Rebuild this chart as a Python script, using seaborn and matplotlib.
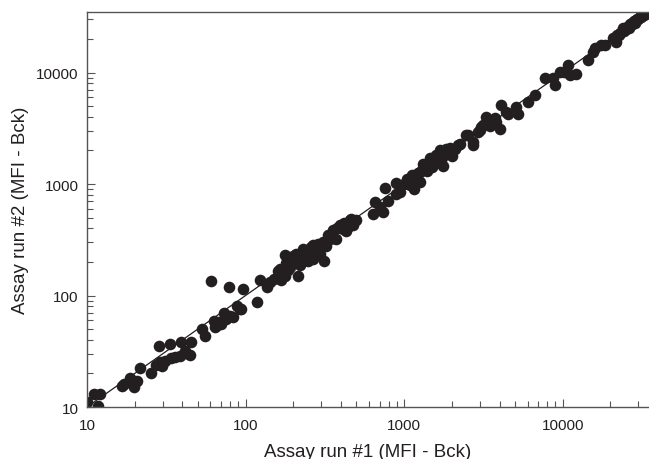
import numpy as np
import pandas as pd
import matplotlib
matplotlib.use("Agg")
import matplotlib.pyplot as plt
import matplotlib.ticker as mticker
import seaborn as sns

# MFI - background
run1 = [
    10, 11, 12, 11.8, 16.6, 17, 18.7, 19.9, 20.8, 21.6, 25.5, 27.3, 28.3, 29.7, 29, 31,
    33.3, 33.8, 36, 38.5, 39.1, 41.6, 44.6, 45.2, 42, 53, 55.6, 60.2, 63.4, 64.6, 66, 68,
    70, 73, 75, 78.8, 80, 83, 88, 91.6, 94, 95.8,
    118, 123, 136, 142, 152, 164, 168, 177, 177, 192, 209, 214, 204, 231, 220, 248, 267,
    267, 287, 311, 293, 323, 332, 180, 195, 225, 240, 255, 275, 300, 310,
    160, 185, 200, 235, 260, 285, 320, 340,
    357, 374, 393, 412, 454, 465, 474, 430, 500, 345, 380, 420, 445,
    637, 653, 700, 736, 755, 792, 894, 894, 938, 1000, 1050, 1084, 1120, 1140, 1160, 1180,
    1194, 1250, 1253, 1300, 1315, 1350, 1400, 1414, 1450, 1480, 1520, 1550, 1596, 1620,
    1675, 1700, 1750, 1760, 1800, 1845, 1845, 1900, 2000, 2100, 2188, 2250, 2472, 2530,
    1230, 1380, 1500, 1650, 1950,
    2725, 2730, 2924, 3000, 3070, 3150, 3296, 3400, 3500, 3600, 3722, 3800, 4000, 4102,
    4406, 4500, 5096, 5223, 6038, 6653, 7690, 8680, 8900, 9550, 10200, 10780, 11050,
    12180, 14430, 15500, 16000, 17500, 18500, 20700, 21730, 22000, 23000, 23930, 24000,
    24500, 25500, 26000, 26500, 27000, 27500, 28000, 28500, 29000, 30000, 31000, 31260,
    32000, 33000, 22500, 25000, 29500, 32500, 34000,
]
run2 = [
    11, 13, 13, 10.3, 15.5, 16, 18.1, 15, 17.2, 22.3, 20, 23.8, 35, 23.2, 25.5, 26,
    36.8, 27.4, 28, 28.9, 38.1, 32, 29, 38, 30.5, 50, 43, 134, 59.6, 52, 54, 58,
    56, 70, 62, 120, 65, 64, 81, 76, 76, 115,
    88, 138, 119, 132, 142, 174, 137, 151, 229, 180, 237, 151, 200, 263, 186, 206, 281,
    214, 291, 206, 237, 302, 346, 195, 210, 240, 230, 250, 260, 280, 300,
    165, 170, 225, 205, 275, 255, 280, 320,
    384, 323, 426, 397, 472, 489, 426, 380, 480, 330, 400, 450, 410,
    542, 690, 620, 561, 923, 699, 1030, 818, 849, 1000, 1100, 975, 1200, 1080, 910, 1100,
    1159, 1040, 1283, 1350, 1524, 1400, 1300, 1472, 1700, 1600, 1578, 1500, 1812, 1700,
    2010, 1650, 1800, 1465, 1950, 2081, 1880, 2000, 1770, 2080, 2228, 2300, 2742, 2740,
    1250, 1450, 1420, 1600, 2100,
    2388, 2230, 2938, 3050, 3258, 3350, 4008, 3500, 3300, 3700, 3873, 3600, 3148, 5165,
    4444, 4290, 4930, 4290, 5470, 6270, 8850, 8850, 7710, 10160, 10160, 11670, 9480,
    9780, 12900, 15350, 16500, 17620, 17800, 20230, 18880, 21500, 22500, 24880, 24000,
    23500, 25800, 25000, 27500, 26500, 27800, 29000, 28000, 29500, 30000, 31500, 32800,
    32500, 33500, 21800, 24500, 30500, 33000, 34500,
]

df = pd.DataFrame({"run1": run1, "run2": run2})

sns.set_style("ticks")
plt.rcParams["font.family"] = ["Liberation Sans", "DejaVu Sans"]

fig = plt.figure(figsize=(6.49, 4.6), dpi=100)
ax = fig.add_axes([0.134, 0.113, 0.866, 0.859])

ax.plot([10, 40000], [10, 40000], color="#231f20", lw=0.9, zorder=1)
sns.scatterplot(data=df, x="run1", y="run2", ax=ax, s=70, color="#231f20",
                linewidth=0, zorder=2, legend=False)

ax.set_xscale("log")
ax.set_yscale("log")
ax.set_xlim(10, 35000)
ax.set_ylim(10, 35000)

fmt = mticker.FuncFormatter(lambda v, p: f"{int(round(v))}")
for axis in (ax.xaxis, ax.yaxis):
    axis.set_major_locator(mticker.LogLocator(base=10))
    axis.set_minor_locator(mticker.LogLocator(base=10, subs=np.arange(2, 10)))
    axis.set_major_formatter(fmt)
    axis.set_minor_formatter(mticker.NullFormatter())

ax.tick_params(which="major", direction="in", length=6, width=0.8,
               color="#555555", labelsize=11, labelcolor="#231f20", pad=6)
ax.tick_params(axis="x", which="major", pad=8)
ax.tick_params(which="minor", direction="in", length=4, width=0.8, color="#555555")

for side in ("left", "bottom", "top"):
    ax.spines[side].set_color("#555555")
    ax.spines[side].set_linewidth(1.0)
ax.spines["right"].set_visible(False)

ax.set_xlabel("Assay run #1 (MFI - Bck)", fontsize=13.5, color="#231f20", labelpad=8)
ax.set_ylabel("Assay run #2 (MFI - Bck)", fontsize=13.5, color="#231f20", labelpad=5)

fig.savefig("out.png", dpi=100)
